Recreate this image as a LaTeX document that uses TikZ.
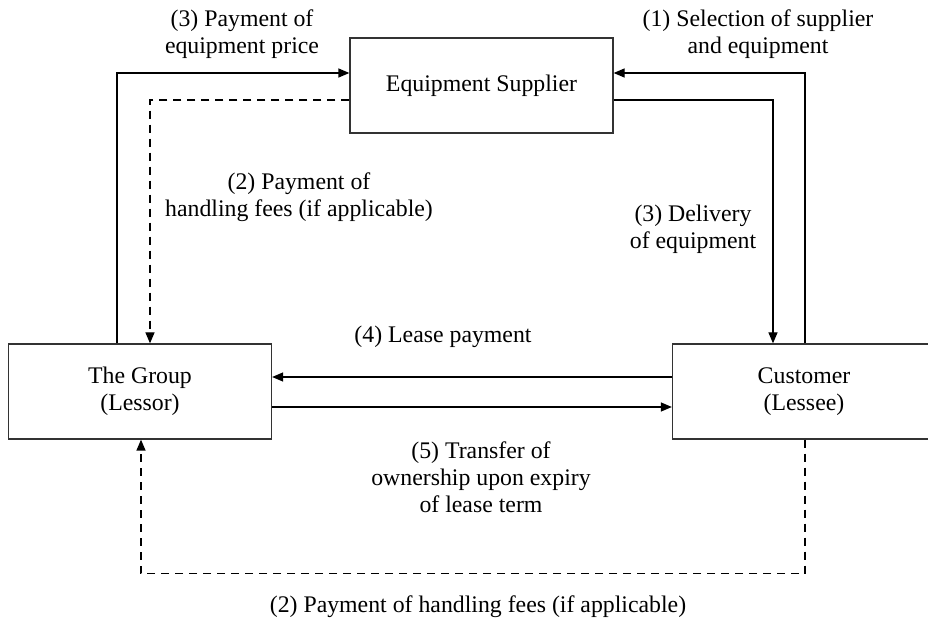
\documentclass[tikz,border=0pt]{standalone}
\usepackage{fontspec}
\setmainfont{Liberation Serif}
\usetikzlibrary{arrows.meta,positioning}

\begin{document}
\begin{tikzpicture}[
    x=0.5pt, y=-0.5pt,
    font=\fontsize{11.9}{13.5}\selectfont,
    party/.style={rectangle,draw=black!80,line width=0.65pt,
        minimum width=131.5pt,minimum height=47.5pt,align=center,inner sep=0pt},
    lbl/.style={align=center,inner sep=0pt},
    flow/.style={line width=0.65pt,-{Triangle[length=5.5pt,width=4.5pt]}},
    fee/.style={flow,dash pattern=on 4pt off 3pt},
    ]

    \useasboundingbox (0,0) rectangle (928,619);
    \clip (0,0) rectangle (928,619);

    %parties
    \node[party] (supplier) at (481.5,85.5) {Equipment Supplier};
    \node[party] (group) at (140,391.5) {The Group\\(Lessor)};
    \node[party] (customer) at (804,391.5) {Customer\\(Lessee)};

    %flows
    \draw[flow] (group.north -| 117,0) |- (supplier.west |- 0,73);
    \draw[fee] (supplier.west |- 0,100) -| (group.north -| 150,0);
    \draw[flow] (customer.north -| 805,0) |- (supplier.east |- 0,73);
    \draw[flow] (supplier.east |- 0,100) -| (customer.north -| 773,0);
    \draw[flow] (customer.west |- 0,377) -- (group.east |- 0,377);
    \draw[flow] (group.east |- 0,407) -- (customer.west |- 0,407);
    \draw[fee] (customer.south -| 805,0) -- ++(0,134) -| (group.south -| 141,0);

    %labels
    \node[lbl] (payprice) at (242,34) {(3) Payment of\\equipment price};
    \node[lbl] (select) at (758,34) {(1) Selection of supplier\\and equipment};
    \node[lbl] (feeup) at (299,197) {(2) Payment of\\handling fees (if applicable)};
    \node[lbl] (deliver) at (693,229) {(3) Delivery\\of equipment};
    \node[lbl] (lease) at (443,336.5) {(4) Lease payment};
    \node[lbl] (transfer) at (481,477) {(5) Transfer of\\ownership upon expiry\\of lease term};
    \node[lbl] (feedown) at (478,607) {(2) Payment of handling fees (if applicable)};

\end{tikzpicture}
\end{document}
